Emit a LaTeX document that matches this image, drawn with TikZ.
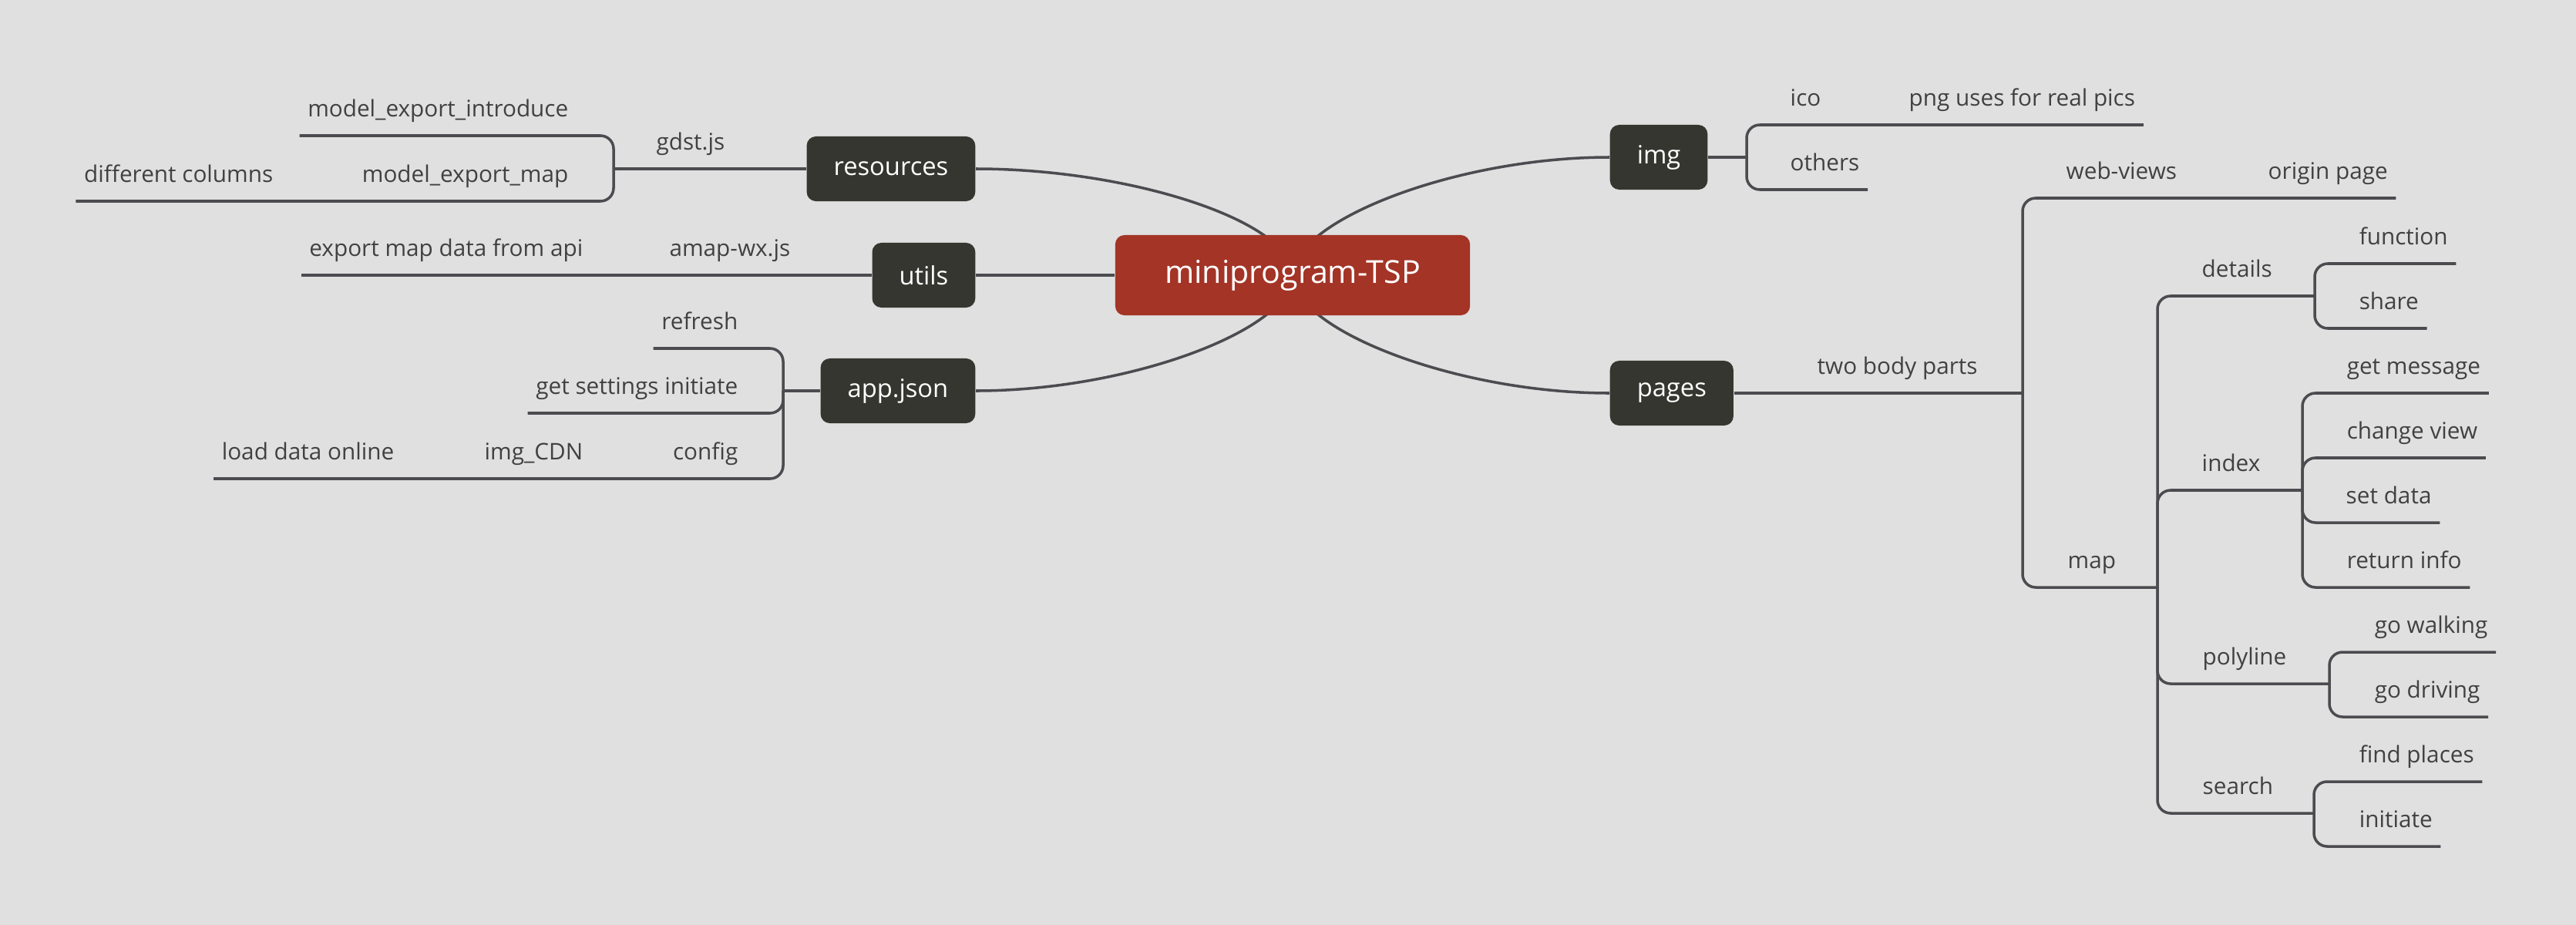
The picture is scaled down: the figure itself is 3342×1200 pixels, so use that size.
\documentclass[tikz,border=0pt]{standalone}
\usepackage{fontspec}
\setmainfont{Open Sans}
\usetikzlibrary{backgrounds}
\definecolor{bgc}{HTML}{E0E0E0}
\definecolor{linec}{HTML}{4B4B50}
\definecolor{txtc}{HTML}{414141}
\definecolor{boxc}{HTML}{363630}
\definecolor{rootc}{HTML}{A33426}
\tikzset{
  branch/.style={draw=linec,line width=1pt},
  central/.style={rectangle,rounded corners=0.12cm,fill=rootc,text=white,font=\fontsize{11.7}{14}\selectfont,minimum width=4.6cm,minimum height=1.04cm},
  box/.style={rectangle,rounded corners=0.12cm,fill=boxc,text=white,font=\fontsize{9.3}{11}\selectfont,minimum height=0.84cm,inner xsep=0.35cm},
  topic/.style={font=\fontsize{8.45}{10}\selectfont,text=txtc,inner xsep=0.1cm,inner ysep=0pt,text height=0.22cm,text depth=0.24cm},
  fork/.style={rounded corners=0.17cm}
}
\begin{document}
\begin{tikzpicture}[x=0.01cm,y=-0.01cm]
\useasboundingbox (0,0) rectangle (3342,1200);
% main topics
\node[central] (root) at (1677,357) {miniprogram-TSP};
\node[box,anchor=east] (res) at (1266,219) {resources};
\node[box,anchor=east] (utils) at (1266,357) {utils};
\node[box,anchor=east] (app) at (1266,507) {app.json};
\node[box,anchor=west] (img) at (2088,204) {img};
\node[box,anchor=west] (pages) at (2088,510) {pages};
% left side
\node[topic,anchor=south east] (gdst) at (951,219) {gdst.js};
\node[topic,anchor=south east] (mei) at (748,176) {model\_export\_introduce};
\node[topic,anchor=south east] (mem) at (748,261) {model\_export\_map};
\node[topic,anchor=south east] (dcol) at (365,261) {different columns};
\node[topic,anchor=south east] (amap) at (1036,357) {amap-wx.js};
\node[topic,anchor=south east] (expo) at (767,357) {export map data from api};
\node[topic,anchor=south east] (refresh) at (968,452) {refresh};
\node[topic,anchor=south east] (gsi) at (968,536) {get settings initiate};
\node[topic,anchor=south east] (config) at (968,621) {config};
\node[topic,anchor=south east] (cdn) at (767,621) {img\_CDN};
\node[topic,anchor=south east] (lonline) at (522,621) {load data online};
\coordinate (resfork) at (796,219);
\coordinate (appfork) at (1016,507);
% right side
\node[topic,anchor=south west] (ico) at (2312,162) {ico};
\node[topic,anchor=south west] (png) at (2466,162) {png uses for real pics};
\node[topic,anchor=south west] (others) at (2312,246) {others};
\node[topic,anchor=south west] (tbp) at (2347,510) {two body parts};
\node[topic,anchor=south west] (web) at (2670,257) {web-views};
\node[topic,anchor=south west] (origin) at (2932,257) {origin page};
\node[topic,anchor=south west] (map) at (2672,762) {map};
\node[topic,anchor=south west] (details) at (2846,384) {details};
\node[topic,anchor=south west] (function) at (3050,342) {function};
\node[topic,anchor=south west] (share) at (3050,426) {share};
\node[topic,anchor=south west] (index) at (2846,636) {index};
\node[topic,anchor=south west] (getmsg) at (3034,510) {get message};
\node[topic,anchor=south west] (change) at (3034,594) {change view};
\node[topic,anchor=south west] (setdata) at (3033,678) {set data};
\node[topic,anchor=south west] (retinfo) at (3034,762) {return info};
\node[topic,anchor=south west] (polyline) at (2847,887) {polyline};
\node[topic,anchor=south west] (walking) at (3070,846) {go walking};
\node[topic,anchor=south west] (driving) at (3070,930) {go driving};
\node[topic,anchor=south west] (search) at (2847,1055) {search};
\node[topic,anchor=south west] (find) at (3050,1014) {find places};
\node[topic,anchor=south west] (initiate) at (3050,1098) {initiate};
\coordinate (imgfork) at (2266,204);
\coordinate (pgfork) at (2624,510);
\coordinate (mapfork) at (2799,762);
\coordinate (detfork) at (3003,384);
\coordinate (idxfork) at (2987,636);
\coordinate (polyfork) at (3022,887);
\coordinate (srchfork) at (3002,1055);
% connectors
\begin{scope}[on background layer]
\fill[bgc] (0,0) rectangle (3342,1200);
\draw[branch] (root.center) .. controls +(0,-70) and +(200,0) .. (res.east);
\draw[branch] (root.center) .. controls +(0,70) and +(200,0) .. (app.east);
\draw[branch] (root.center) .. controls +(0,-70) and +(-200,0) .. (img.west);
\draw[branch] (root.center) .. controls +(0,70) and +(-200,0) .. (pages.west);
\end{scope}
\draw[branch] (root.west) -- (utils.east);
\draw[branch] (res.west) -- (gdst.south east) -- (gdst.south west) -- (resfork);
\draw[branch,fork] (resfork) |- (mei.south east) -- (mei.south west);
\draw[branch,fork] (resfork) |- (mem.south east) -- (mem.south west) -- (dcol.south east) -- (dcol.south west);
\draw[branch] (utils.west) -- (amap.south east) -- (amap.south west) -- (expo.south east) -- (expo.south west);
\draw[branch] (app.west) -- (appfork);
\draw[branch,fork] (appfork) |- (refresh.south east) -- (refresh.south west);
\draw[branch,fork] (appfork) |- (gsi.south east) -- (gsi.south west);
\draw[branch,fork] (appfork) |- (config.south east) -- (config.south west) -- (cdn.south east) -- (cdn.south west) -- (lonline.south east) -- (lonline.south west);
\draw[branch] (img.east) -- (imgfork);
\draw[branch,fork] (imgfork) |- (ico.south west) -- (ico.south east) -- (png.south west) -- (png.south east);
\draw[branch,fork] (imgfork) |- (others.south west) -- (others.south east);
\draw[branch] (pages.east) -- (tbp.south west) -- (tbp.south east) -- (pgfork);
\draw[branch,fork] (pgfork) |- (web.south west) -- (web.south east) -- (origin.south west) -- (origin.south east);
\draw[branch,fork] (pgfork) |- (map.south west) -- (map.south east) -- (mapfork);
\draw[branch,fork] (mapfork) |- (details.south west) -- (details.south east) -- (detfork);
\draw[branch,fork] (detfork) |- (function.south west) -- (function.south east);
\draw[branch,fork] (detfork) |- (share.south west) -- (share.south east);
\draw[branch,fork] (mapfork) |- (index.south west) -- (index.south east) -- (idxfork);
\draw[branch,fork] (idxfork) |- (getmsg.south west) -- (getmsg.south east);
\draw[branch,fork] (idxfork) |- (change.south west) -- (change.south east);
\draw[branch,fork] (idxfork) |- (setdata.south west) -- (setdata.south east);
\draw[branch,fork] (idxfork) |- (retinfo.south west) -- (retinfo.south east);
\draw[branch,fork] (mapfork) |- (polyline.south west) -- (polyline.south east) -- (polyfork);
\draw[branch,fork] (polyfork) |- (walking.south west) -- (walking.south east);
\draw[branch,fork] (polyfork) |- (driving.south west) -- (driving.south east);
\draw[branch,fork] (mapfork) |- (search.south west) -- (search.south east) -- (srchfork);
\draw[branch,fork] (srchfork) |- (find.south west) -- (find.south east);
\draw[branch,fork] (srchfork) |- (initiate.south west) -- (initiate.south east);
\end{tikzpicture}
\end{document}
